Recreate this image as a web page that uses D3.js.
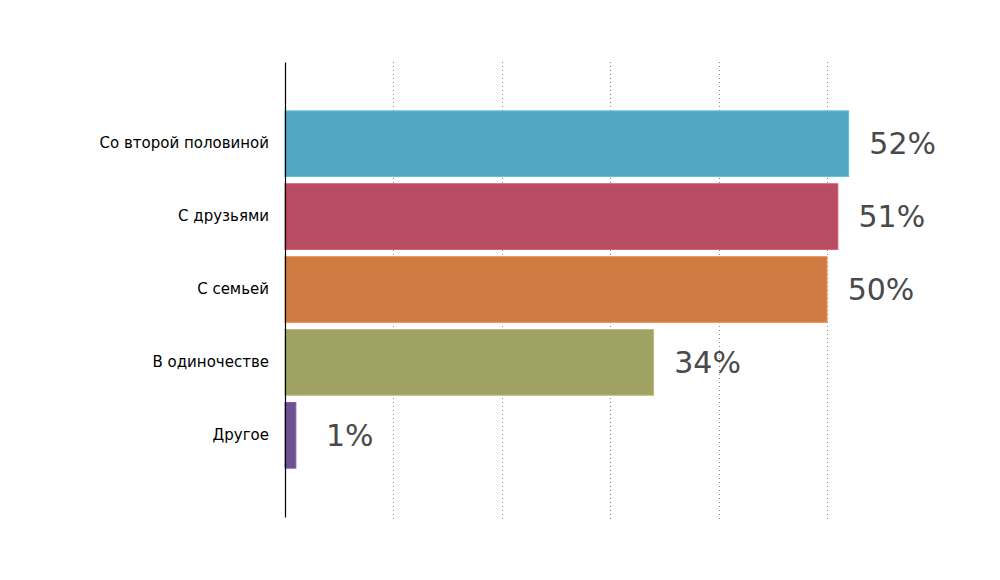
<!DOCTYPE html>
<html>
<head>
<meta charset="utf-8">
<script src="https://cdn.jsdelivr.net/npm/d3@7"></script>
<style>
  body { margin: 0; background: #fff; }
  text { font-family: "DejaVu Sans", sans-serif; }
</style>
</head>
<body>
<svg class="chart"></svg>
<script>
var categories = ["Со второй половиной", "С друзьями", "С семьей", "В одиночестве", "Другое"];
var values = [52, 51, 50, 34, 1];
var colors = ["#52a8c1", "#b84c62", "#cf7a41", "#a0a264", "#6d5192"];
var gridTicks = [10, 20, 30, 40, 50];

var W = 1000, H = 580;
var m = {top: 62, left: 285};
var w = 542 / 50 * 100, h = 455;

var svg = d3.select('.chart').attr('width', W).attr('height', H);
var g = svg.append('g').attr('transform', 'translate(' + m.left + ',' + m.top + ')');

var x = d3.scaleLinear().domain([0, 100]).range([0, w]);
var y = d3.scaleBand().domain(categories).range([0, h]).paddingInner(0.1).paddingOuter(0.67);

// dotted grid
g.selectAll('.grid').data(gridTicks).enter().append('line')
  .attr('class', 'grid')
  .attr('x1', function(d) { return Math.round(x(d)) + 0.5; })
  .attr('x2', function(d) { return Math.round(x(d)) + 0.5; })
  .attr('y1', 0).attr('y2', h + 4)
  .attr('stroke', '#888').attr('stroke-width', 1)
  .attr('stroke-dasharray', '1,3');

g.selectAll('.bar').data(values).enter().append('rect')
  .attr('class', 'bar')
  .attr('x', 0)
  .attr('y', function(d, i) { return y(categories[i]); })
  .attr('width', function(d) { return x(d); })
  .attr('height', y.bandwidth())
  .attr('fill', function(d, i) { return colors[i]; })
  .attr('stroke', function(d, i) { return d3.color(colors[i]).brighter(0.4); })
  .attr('stroke-width', 1);

g.selectAll('.val').data(values).enter().append('text')
  .attr('class', 'val')
  .attr('x', function(d) { return x(d) + 54; })
  .attr('y', function(d, i) { return y(categories[i]) + y.bandwidth() / 2; })
  .attr('dy', '0.34em')
  .attr('text-anchor', 'middle')
  .attr('fill', '#4a4a4a')
  .style('font-size', '30px')
  .text(function(d) { return d + '%'; });

var axis = g.append('g').call(d3.axisLeft(y).tickSize(0).tickPadding(16));
axis.select('.domain').attr('stroke', '#000').attr('stroke-width', 1.2);
axis.selectAll('text').style('font-family', '"DejaVu Sans", sans-serif')
  .style('font-size', '15px').attr('fill', '#000');
</script>
</body>
</html>
